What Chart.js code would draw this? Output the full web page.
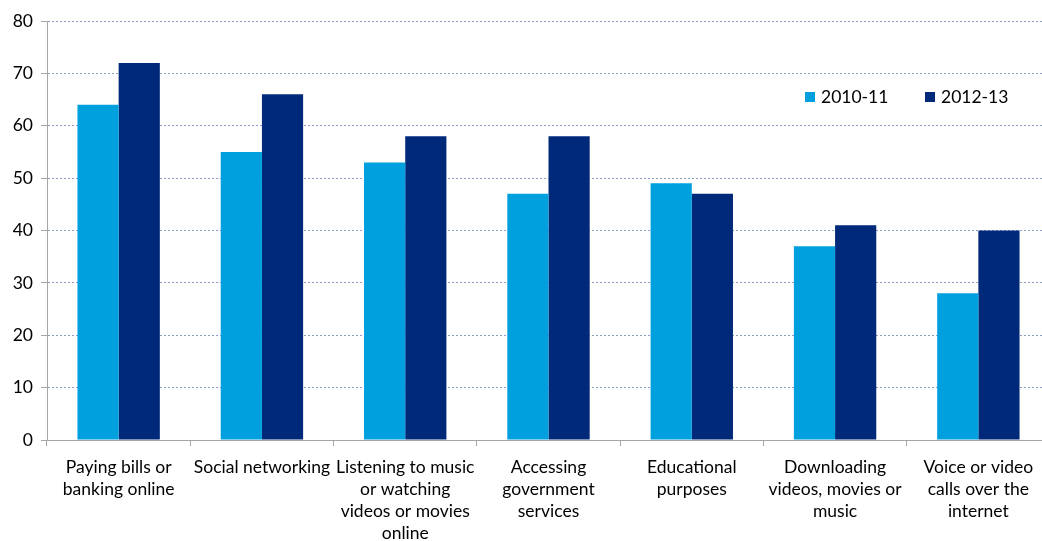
<!DOCTYPE html>
<html>
<head>
<meta charset="utf-8">
<script src="https://cdn.jsdelivr.net/npm/chart.js@4.4.1/dist/chart.umd.min.js"></script>
<style>
  html, body { margin: 0; padding: 0; background: #fff; overflow: hidden; }
  #wrap { width: 1042px; height: 541px; overflow: hidden; }
  #chart { display: block; }
</style>
</head>
<body>
<div id="wrap"><canvas id="chart" width="1052" height="541"></canvas></div>
<script>
const categories = [
  ['Paying bills or', 'banking online'],
  'Social networking',
  ['Listening to music', 'or watching', 'videos or movies', 'online'],
  ['Accessing', 'government', 'services'],
  ['Educational', 'purposes'],
  ['Downloading', 'videos, movies or', 'music'],
  ['Voice or video', 'calls over the', 'internet']
];
const series2010 = [64, 55, 53, 47, 49, 37, 28];
const series2012 = [72, 66, 58, 58, 47, 41, 40];
const seriesLabels = ['2010-11', '2012-13'];
const yTicks = { min: 0, max: 80, step: 10 };

const FONT = 'Lato, Calibri, Carlito, sans-serif';

// legend drawn inside the plot, top right
const innerLegend = {
  id: 'innerLegend',
  afterDraw(chart) {
    const ctx = chart.ctx;
    const xs = [805, 925];
    ctx.save();
    ctx.font = '17.5px ' + FONT;
    ctx.textBaseline = 'middle';
    chart.data.datasets.forEach((ds, i) => {
      ctx.fillStyle = ds.backgroundColor;
      ctx.fillRect(xs[i], 92, 10, 10);
      ctx.fillStyle = '#000';
      ctx.fillText(ds.label, xs[i] + 16, 97);
    });
    ctx.restore();
  }
};

new Chart(document.getElementById('chart'), {
  type: 'bar',
  data: {
    labels: categories,
    datasets: [
      { label: seriesLabels[0], data: series2010, backgroundColor: '#00A0DF' },
      { label: seriesLabels[1], data: series2012, backgroundColor: '#00297A' }
    ]
  },
  options: {
    responsive: false,
    animation: false,
    layout: { padding: { top: 21, right: 2, left: 0, bottom: 0 } },
    datasets: { bar: { categoryPercentage: 0.575, barPercentage: 1 } },
    plugins: { legend: { display: false }, tooltip: { enabled: false } },
    scales: {
      x: {
        offset: true,
        grid: { display: true, drawOnChartArea: false, offset: true, tickLength: 6, tickColor: '#A6A6A6' },
        border: { color: '#A6A6A6' },
        ticks: { color: '#000', font: { family: FONT, size: 17.5, lineHeight: 1.27 }, maxRotation: 0, autoSkip: false, padding: 10 },
        afterFit: (s) => { s.height = 101; }
      },
      y: {
        min: yTicks.min,
        max: yTicks.max,
        grid: { color: '#8C9DC4', tickColor: '#A6A6A6', tickLength: 6, drawTicks: true },
        border: { color: '#A6A6A6', dash: [2, 2] },
        ticks: { stepSize: yTicks.step, color: '#000', font: { family: FONT, size: 17.5 }, padding: 8 },
        afterFit: (s) => { s.width = 47; }
      }
    }
  },
  plugins: [innerLegend]
});
</script>
</body>
</html>
